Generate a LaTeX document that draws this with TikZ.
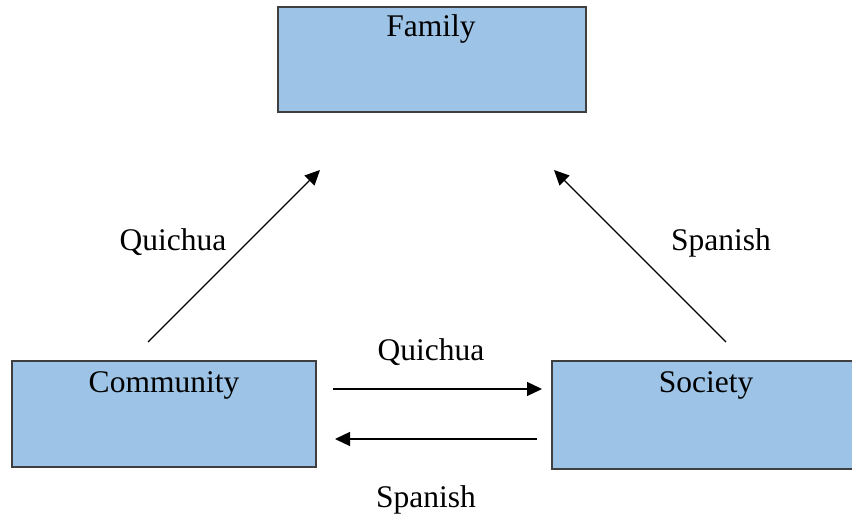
\documentclass[tikz,border=0pt]{standalone}
\usepackage{fontspec}
\setmainfont{Liberation Serif}
\usetikzlibrary{arrows.meta}
\definecolor{boxfill}{HTML}{9DC3E6}
\definecolor{boxline}{HTML}{3F3F3F}
\begin{document}
\begin{tikzpicture}[x=1pt,y=-1pt,
  box/.style={draw=boxline,line width=1.4pt,fill=boxfill,rectangle,inner sep=0pt},
  txt/.style={font=\fontsize{31.5}{36}\selectfont,inner sep=0pt,anchor=base},
  conn/.style={line width=1.3pt,-{Triangle[length=15pt,width=14pt]}}]
\useasboundingbox (0,0) rectangle (852,516);
% boxes
\node[box,minimum width=308pt,minimum height=105pt] (family) at (432,59.5) {};
\node[box,minimum width=304pt,minimum height=106pt] (community) at (164,414) {};
\node[box,minimum width=306pt,minimum height=108pt] (society) at (705,415) {};
% box texts
\node[txt] (familyt) at (431,37) {Family};
\node[txt] (communityt) at (164,392) {Community};
\node[txt] (societyt) at (706,392) {Society};
% connector end points
\coordinate (l1) at (148,342);
\coordinate (l2) at (320,170);
\coordinate (r1) at (726,342);
\coordinate (r2) at (554,170);
\coordinate (h1) at (333,389);
\coordinate (h2) at (542,389);
\coordinate (h3) at (537,439);
\coordinate (h4) at (335,439);
\draw[conn] (l1) -- (l2);
\draw[conn] (r1) -- (r2);
\draw[conn] (h1) -- (h2);
\draw[conn] (h3) -- (h4);
% labels
\node[txt] (q1) at (173,251) {Quichua};
\node[txt] (s1) at (721,251) {Spanish};
\node[txt] (q2) at (431,360) {Quichua};
\node[txt] (s2) at (426,507) {Spanish};
\end{tikzpicture}
\end{document}
